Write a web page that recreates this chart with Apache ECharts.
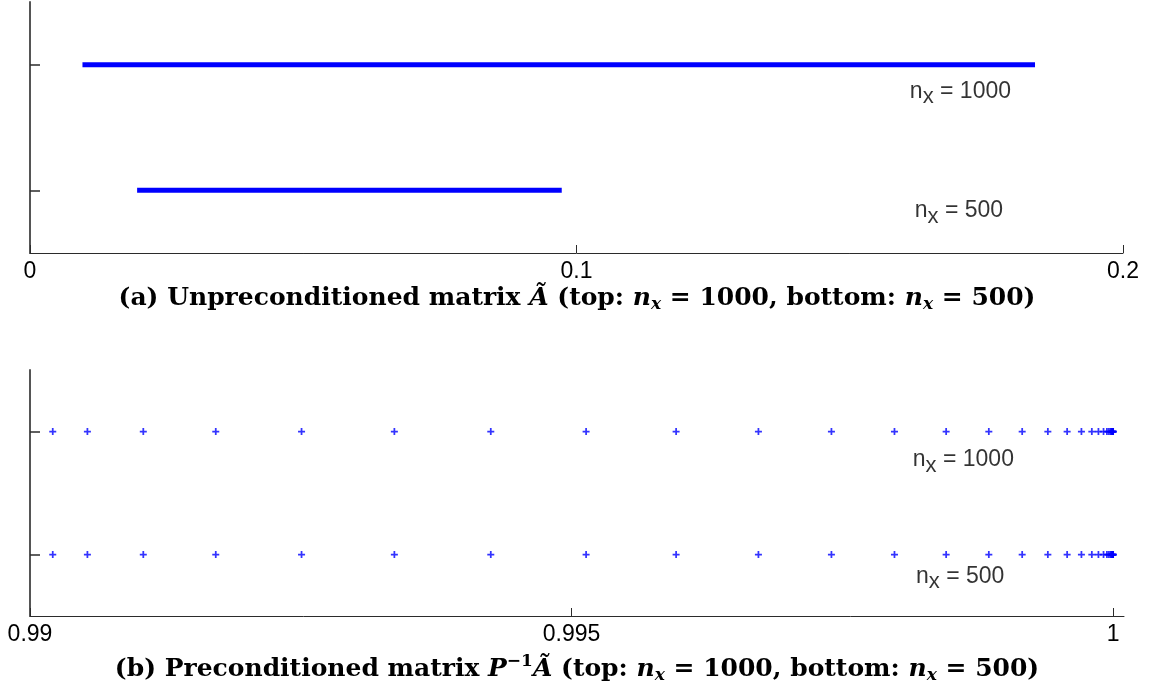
<!DOCTYPE html>
<html>
<head>
<meta charset="utf-8">
<script src="https://cdn.jsdelivr.net/npm/echarts@6/dist/echarts.min.js"></script>
<style>
html,body{margin:0;padding:0;background:#fff;}
#chart{width:1154px;height:693px;}
</style>
</head>
<body>
<div id="chart"></div>
<script>
// ---- data ----
const topTickValues = [0, 0.1, 0.2];
const topTickLabels = ['0', '0.1', '0.2'];
const bottomTickValues = [0.99, 0.995, 1];
const bottomTickLabels = ['0.99', '0.995', '1'];
const rowLevels = [1, 3]; // row 1: n_x = 500, row 3: n_x = 1000
// unpreconditioned spectrum extent (min, max eigenvalue)
const topRange1000 = [0.0096, 0.1839];
const topRange500 = [0.0196, 0.0973];
// preconditioned eigenvalues
const bottomEig1000 = [0.99021, 0.99053, 0.991046, 0.991715, 0.992507, 0.993364, 0.994254, 0.995134, 0.995965, 0.996725, 0.997399, 0.997981, 0.998458, 0.998852, 0.99916, 0.999397, 0.999575, 0.999707, 0.999803, 0.999864, 0.999911, 0.999942, 0.999958, 0.999972, 0.999982, 0.999988, 0.999993, 0.999996, 0.999998, 0.999999, 1.0];
const bottomEig500 = [0.99021, 0.99053, 0.991046, 0.991715, 0.992507, 0.993364, 0.994254, 0.995134, 0.995965, 0.996725, 0.997399, 0.997981, 0.998458, 0.998852, 0.99916, 0.999397, 0.999575, 0.999707, 0.999803, 0.999864, 0.999911, 0.999942, 0.999958, 0.999972, 0.999982, 0.999988, 0.999993, 0.999996, 0.999998, 0.999999, 1.0];
const labelTexts = ['1000', '500'];
const topLabelPos = [[0.1610, 2.58], [0.1619, 0.677]];
const bottomLabelPos = [[0.99815, 2.545], [0.99818, 0.65]];
const captionA = ['(a) Unpreconditioned matrix ', 'Ã', ' (top: ', '1000', ', bottom: ', '500', ')'];
const captionB = ['(b) Preconditioned matrix ', 'P', '−1', 'Ã', ' (top: ', '1000', ', bottom: ', '500', ')'];

// ---- styles ----
const BLUE = '#0000ff';
const AXIS = '#2b2b2b';
const SANS = '"Liberation Sans", Arial, Helvetica, sans-serif';
const SERIF = '"DejaVu Serif", "Liberation Serif", serif';
const plus = 'path://M3,0H5V3H8V5H5V8H3V5H0V3H3Z';

const nxRich = {
  m: {fontFamily: SANS, fontSize: 23, color: '#000', lineHeight: 22, verticalAlign: 'top'},
  s: {fontFamily: SANS, fontSize: 22, color: '#000', lineHeight: 20, padding: [12, 0, 0, 0]}
};
function nxLabelSeries(xi, yi, pos) {
  return {
    type: 'scatter', xAxisIndex: xi, yAxisIndex: yi, symbolSize: 0, silent: true,
    data: pos.map((p, i) => ({value: p, name: labelTexts[i]})),
    label: {
      show: true, position: [0, 0], align: 'left', verticalAlign: 'top', offset: [0, -11], color: '#000',
      formatter: p => '{m|n}{s|x}{m| = ' + p.name + '}',
      rich: nxRich
    }
  };
}

const CF = 25;
const capRich = {
  r: {fontFamily: SERIF, fontWeight: 'bold', fontSize: CF, color: '#000', lineHeight: 28},
  i: {fontFamily: SERIF, fontWeight: 'bold', fontStyle: 'italic', fontSize: CF, color: '#000', lineHeight: 28},
  ai: {fontFamily: SERIF, fontStyle: 'italic', fontSize: CF, color: '#000', lineHeight: 28},
  sb: {fontFamily: SERIF, fontWeight: 'bold', fontStyle: 'italic', fontSize: 17, color: '#000', lineHeight: 16, padding: [14, 0, 0, 0]},
  sp: {fontFamily: SERIF, fontSize: 17, color: '#000', lineHeight: 16, padding: [0, 0, 14, 0]}
};
const capA = '{r|' + captionA[0] + '}{ai|' + captionA[1] + '}{r|' + captionA[2] + '}{i|n}{sb|x}{r| = ' + captionA[3] + captionA[4] + '}{i|n}{sb|x}{r| = ' + captionA[5] + captionA[6] + '}';
const capB = '{r|' + captionB[0] + '}{i|' + captionB[1] + '}{sp|' + captionB[2] + '}{ai|' + captionB[3] + '}{r|' + captionB[4] + '}{i|n}{sb|x}{r| = ' + captionB[5] + captionB[6] + '}{i|n}{sb|x}{r| = ' + captionB[7] + captionB[8] + '}';

function fmt(values, labels) {
  return v => {
    for (let i = 0; i < values.length; i++) if (Math.abs(v - values[i]) < 1e-9) return labels[i];
    return '';
  };
}

function xAx(gi, min, max, vals, labs) {
  return {
    type: 'value', gridIndex: gi, min: min, max: max,
    axisLine: {show: true, lineStyle: {color: AXIS, width: 1}},
    axisTick: {show: true, inside: true, length: 8, customValues: vals, lineStyle: {color: AXIS}},
    axisLabel: {show: true, customValues: vals, formatter: fmt(vals, labs), fontFamily: SANS, fontSize: 23, color: '#000', margin: 7},
    splitLine: {show: false}
  };
}
function yAx(gi) {
  return {
    type: 'value', gridIndex: gi, min: 0, max: 4,
    axisLine: {show: true, onZero: false, lineStyle: {color: '#555', width: 2}},
    axisTick: {show: true, inside: true, length: 10, customValues: rowLevels, lineStyle: {color: AXIS, width: 1.5}},
    axisLabel: {show: false},
    splitLine: {show: false}
  };
}

const option = {
  animation: false,
  backgroundColor: '#fff',
  title: [
    {text: capA, left: 'center', top: 279, textStyle: {rich: capRich}},
    {text: capB, left: 'center', top: 650, textStyle: {rich: capRich}}
  ],
  grid: [
    {left: 30, right: 31, top: 2, height: 251},
    {left: 30, right: 30, top: 370, height: 246}
  ],
  xAxis: [
    xAx(0, 0, 0.2, topTickValues, topTickLabels),
    xAx(1, 0.99, 1.0001, bottomTickValues, bottomTickLabels)
  ],
  yAxis: [yAx(0), yAx(1)],
  series: [
    {type: 'line', xAxisIndex: 0, yAxisIndex: 0, symbol: 'none', silent: true,
     lineStyle: {color: BLUE, width: 5},
     data: topRange1000.map(v => [v, rowLevels[1]])},
    {type: 'line', xAxisIndex: 0, yAxisIndex: 0, symbol: 'none', silent: true,
     lineStyle: {color: BLUE, width: 5},
     data: topRange500.map(v => [v, rowLevels[0]])},
    {type: 'scatter', xAxisIndex: 1, yAxisIndex: 1, symbol: plus, symbolSize: 7, silent: true,
     itemStyle: {color: BLUE},
     data: bottomEig1000.map(v => [v, rowLevels[1]])},
    {type: 'scatter', xAxisIndex: 1, yAxisIndex: 1, symbol: plus, symbolSize: 7, silent: true,
     itemStyle: {color: BLUE},
     data: bottomEig500.map(v => [v, rowLevels[0]])},
    nxLabelSeries(0, 0, topLabelPos),
    nxLabelSeries(1, 1, bottomLabelPos)
  ]
};
const chart = echarts.init(document.getElementById('chart'), null, {renderer: 'canvas'});
chart.setOption(option);
</script>
</body>
</html>
